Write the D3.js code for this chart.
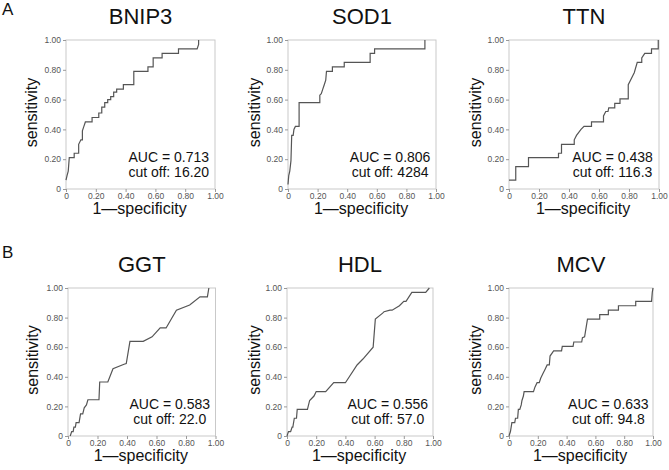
<!DOCTYPE html>
<html>
<head>
<meta charset="utf-8">
<script src="https://cdn.jsdelivr.net/npm/d3@7"></script>
<style>
  html, body { margin: 0; padding: 0; background: #fff; }
  svg { display: block; font-family: "Liberation Sans", Arial, sans-serif; }
</style>
</head>
<body>
<svg id="chart" width="669" height="470"></svg>
<script>
// ---------- data ----------
const markers = ["BNIP3", "SOD1", "TTN", "GGT", "HDL", "MCV"];
const aucLabels = ["AUC = 0.713", "AUC = 0.806", "AUC = 0.438", "AUC = 0.583", "AUC = 0.556", "AUC = 0.633"];
const cutoffLabels = ["cut off: 16.20", "cut off: 4284", "cut off: 116.3", "cut off: 22.0", "cut off: 57.0", "cut off: 94.8"];
const panelLetters = ["A", "B"];
const tickValues = [0, 0.2, 0.4, 0.6, 0.8, 1.0];
const tickLabels = ["0", "0.20", "0.40", "0.60", "0.80", "1.00"];
const xLabel = "1\u2014specificity";
const yLabel = "sensitivity";

// ROC curve vertices: 1-specificity (fpr) and sensitivity (tpr)
const bnip3Fpr = [0, 0.007, 0.015, 0.022, 0.055, 0.055, 0.085, 0.085, 0.10, 0.11, 0.11, 0.12, 0.13, 0.175, 0.175, 0.22, 0.22, 0.24, 0.24, 0.26, 0.26, 0.28, 0.28, 0.30, 0.30, 0.32, 0.32, 0.34, 0.34, 0.385, 0.385, 0.455, 0.455, 0.55, 0.55, 0.585, 0.585, 0.645, 0.645, 0.755, 0.755, 0.88, 0.89, 0.89];
const bnip3Tpr = [0.06, 0.09, 0.12, 0.21, 0.21, 0.24, 0.24, 0.30, 0.33, 0.33, 0.39, 0.42, 0.45, 0.45, 0.48, 0.48, 0.51, 0.51, 0.55, 0.55, 0.58, 0.58, 0.60, 0.60, 0.62, 0.62, 0.65, 0.65, 0.67, 0.67, 0.70, 0.70, 0.79, 0.79, 0.82, 0.82, 0.88, 0.88, 0.91, 0.91, 0.94, 0.94, 0.97, 1.0];

const sod1Fpr = [0, 0.005, 0.012, 0.02, 0.025, 0.035, 0.04, 0.05, 0.075, 0.075, 0.215, 0.215, 0.225, 0.235, 0.245, 0.255, 0.26, 0.30, 0.30, 0.38, 0.38, 0.555, 0.555, 0.585, 0.585, 0.925, 0.925];
const sod1Tpr = [0.03, 0.09, 0.12, 0.19, 0.36, 0.36, 0.40, 0.42, 0.42, 0.58, 0.58, 0.63, 0.64, 0.67, 0.70, 0.73, 0.79, 0.79, 0.82, 0.82, 0.85, 0.85, 0.91, 0.91, 0.94, 0.94, 1.0];

const ttnFpr = [0, 0.045, 0.045, 0.13, 0.13, 0.33, 0.33, 0.35, 0.35, 0.435, 0.435, 0.45, 0.465, 0.48, 0.50, 0.55, 0.55, 0.63, 0.63, 0.645, 0.66, 0.665, 0.705, 0.705, 0.74, 0.74, 0.795, 0.795, 0.81, 0.825, 0.835, 0.855, 0.885, 0.885, 0.905, 0.95, 0.95, 0.995, 0.995];
const ttnTpr = [0.06, 0.06, 0.15, 0.15, 0.21, 0.21, 0.24, 0.24, 0.30, 0.30, 0.33, 0.36, 0.38, 0.40, 0.42, 0.42, 0.45, 0.45, 0.49, 0.52, 0.52, 0.545, 0.545, 0.575, 0.575, 0.605, 0.605, 0.70, 0.73, 0.76, 0.78, 0.85, 0.85, 0.88, 0.91, 0.91, 0.94, 0.94, 1.0];

const ggtFpr = [0.015, 0.025, 0.035, 0.04, 0.05, 0.055, 0.075, 0.085, 0.10, 0.11, 0.125, 0.135, 0.21, 0.215, 0.27, 0.305, 0.38, 0.395, 0.42, 0.51, 0.57, 0.625, 0.665, 0.735, 0.825, 0.895, 0.945, 0.955];
const ggtTpr = [0, 0.03, 0.03, 0.06, 0.06, 0.09, 0.09, 0.15, 0.15, 0.19, 0.21, 0.245, 0.245, 0.365, 0.365, 0.455, 0.485, 0.49, 0.64, 0.64, 0.67, 0.73, 0.73, 0.85, 0.885, 0.94, 0.94, 1.0];

const hdlFpr = [0, 0.01, 0.025, 0.035, 0.04, 0.05, 0.065, 0.07, 0.14, 0.155, 0.185, 0.20, 0.265, 0.32, 0.40, 0.48, 0.52, 0.59, 0.605, 0.655, 0.665, 0.705, 0.72, 0.77, 0.80, 0.815, 0.855, 0.95, 0.975];
const hdlTpr = [0, 0.03, 0.03, 0.06, 0.06, 0.12, 0.12, 0.18, 0.18, 0.24, 0.27, 0.30, 0.30, 0.36, 0.36, 0.48, 0.52, 0.60, 0.79, 0.83, 0.84, 0.85, 0.85, 0.88, 0.91, 0.91, 0.97, 0.97, 1.0];

const mcvFpr = [0, 0.01, 0.015, 0.02, 0.04, 0.045, 0.06, 0.065, 0.075, 0.085, 0.09, 0.10, 0.105, 0.17, 0.18, 0.195, 0.21, 0.22, 0.235, 0.25, 0.265, 0.28, 0.285, 0.31, 0.365, 0.37, 0.445, 0.45, 0.505, 0.51, 0.525, 0.545, 0.63, 0.63, 0.69, 0.69, 0.76, 0.76, 0.88, 0.88, 0.99, 0.995, 1.0];
const mcvTpr = [0, 0.03, 0.06, 0.09, 0.09, 0.12, 0.12, 0.18, 0.18, 0.21, 0.24, 0.27, 0.30, 0.30, 0.33, 0.36, 0.36, 0.39, 0.42, 0.45, 0.48, 0.48, 0.54, 0.575, 0.575, 0.605, 0.605, 0.635, 0.635, 0.665, 0.67, 0.79, 0.79, 0.82, 0.82, 0.85, 0.85, 0.88, 0.88, 0.91, 0.91, 0.97, 1.0];

const fprSeries = [bnip3Fpr, sod1Fpr, ttnFpr, ggtFpr, hdlFpr, mcvFpr];
const tprSeries = [bnip3Tpr, sod1Tpr, ttnTpr, ggtTpr, hdlTpr, mcvTpr];

// ---------- layout ----------
const boxes = [
  { x0: 66, x1: 215, y0: 40, y1: 189, yl: 29 },
  { x0: 288, x1: 436, y0: 40, y1: 189, yl: 28 },
  { x0: 509, x1: 659, y0: 40, y1: 189, yl: 28 },
  { x0: 68, x1: 215.5, y0: 288, y1: 436, yl: 30 },
  { x0: 287, x1: 433, y0: 288, y1: 436, yl: 27 },
  { x0: 509, x1: 653, y0: 288, y1: 436, yl: 28 }
];
const letterPos = [{ x: 2, y: 15 }, { x: 2, y: 258 }];

const svg = d3.select("#chart");

panelLetters.forEach((L, i) => {
  svg.append("text").attr("x", letterPos[i].x).attr("y", letterPos[i].y)
    .attr("font-size", 17).attr("fill", "#111").text(L);
});

markers.forEach((name, i) => {
  const b = boxes[i];
  const x = d3.scaleLinear().domain([0, 1]).range([b.x0, b.x1]);
  const y = d3.scaleLinear().domain([0, 1]).range([b.y1, b.y0]);
  const g = svg.append("g");

  // frame
  g.append("rect").attr("x", b.x0).attr("y", b.y0)
    .attr("width", b.x1 - b.x0).attr("height", b.y1 - b.y0)
    .attr("fill", "none").attr("stroke", "#c9c9c9").attr("stroke-width", 1);

  // axes
  const yAxis = d3.axisLeft(y).tickValues(tickValues).tickSize(3).tickPadding(2)
    .tickFormat((d, k) => tickLabels[k]);
  const xAxis = d3.axisBottom(x).tickValues(tickValues).tickSize(3).tickPadding(1)
    .tickFormat((d, k) => tickLabels[k]);
  const ya = g.append("g").attr("transform", `translate(${b.x0},0)`).call(yAxis);
  const xa = g.append("g").attr("transform", `translate(0,${b.y1})`).call(xAxis);
  [ya, xa].forEach(a => {
    a.select(".domain").remove();
    a.selectAll(".tick line").attr("stroke", "#999");
    a.selectAll(".tick text").attr("fill", "#555").attr("font-size", 8.5)
      .attr("font-family", "Liberation Sans, Arial, sans-serif");
  });

  // ROC curve
  const pts = fprSeries[i].map((f, k) => [f, tprSeries[i][k]]);
  const line = d3.line().x(d => x(d[0])).y(d => y(d[1]));
  g.append("path").datum(pts).attr("d", line)
    .attr("fill", "none").attr("stroke", "#555").attr("stroke-width", 1.2)
    .attr("stroke-linejoin", "miter");

  // title
  g.append("text").attr("x", (b.x0 + b.x1) / 2).attr("y", b.y0 - 16)
    .attr("text-anchor", "middle").attr("font-size", 22).attr("fill", "#111").text(name);

  // axis labels
  g.append("text").attr("x", (b.x0 + b.x1) / 2 - 1).attr("y", b.y1 + 25)
    .attr("text-anchor", "middle").attr("font-size", 16).attr("fill", "#111").text(xLabel);
  g.append("text")
    .attr("transform", `translate(${b.x0 - b.yl},${(b.y0 + b.y1) / 2 - 2}) rotate(-90)`)
    .attr("text-anchor", "middle").attr("font-size", 16).attr("fill", "#111").text(yLabel);

  // AUC annotation
  const ax = b.x0 + 0.69 * (b.x1 - b.x0);
  const ay = b.y0 + 0.82 * (b.y1 - b.y0);
  g.append("text").attr("x", ax).attr("y", ay).attr("text-anchor", "middle")
    .attr("font-size", 14).attr("fill", "#111").text(aucLabels[i]);
  g.append("text").attr("x", ax).attr("y", ay + 15).attr("text-anchor", "middle")
    .attr("font-size", 14).attr("fill", "#111").text(cutoffLabels[i]);
});
</script>
</body>
</html>
